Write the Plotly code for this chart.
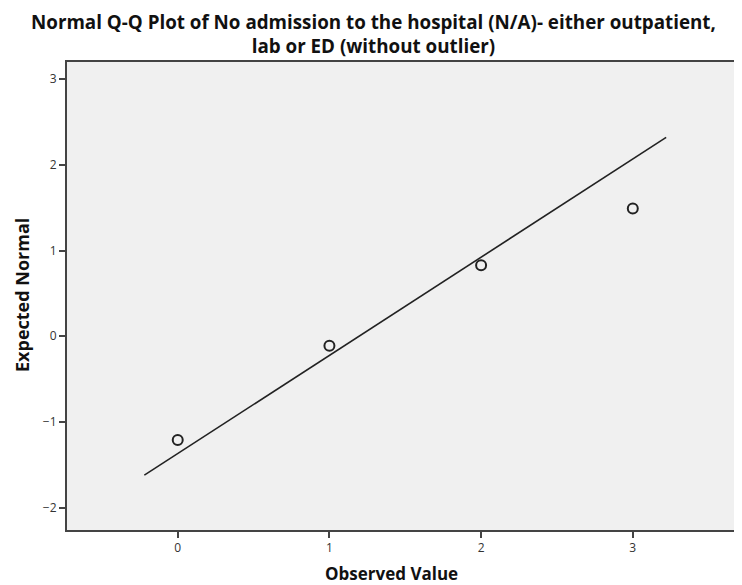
import plotly.graph_objects as go

# Data
observed = [0, 1, 2, 3]
expected = [-1.21, -0.11, 0.83, 1.49]
line_x = [-0.22, 3.22]
line_y = [-1.62, 2.32]
x_ticks = [0, 1, 2, 3]
y_ticks = [-2, -1, 0, 1, 2, 3]
title_lines = ["Normal Q-Q Plot of No admission to the hospital (N/A)- either outpatient,",
               "lab or ED (without outlier)"]

W, H = 734, 577
L, R, T, B = 59, 0, 54, 55
PW, PH = W - L - R, H - T - B

fig = go.Figure()
fig.add_trace(go.Scatter(x=line_x, y=line_y, mode="lines",
                         line=dict(color="#222222", width=1.6), showlegend=False))
fig.add_trace(go.Scatter(x=observed, y=expected, mode="markers",
                         marker=dict(symbol="circle-open", size=10, color="#222222",
                                     line=dict(width=2, color="#222222")),
                         showlegend=False))

cx = (365.5 - L) / PW
fig.add_annotation(text="<b>" + "<br>".join(title_lines) + "</b>", xref="paper", yref="paper",
                   x=cx, y=1 + (T - 26) / PH,
                   xanchor="center", yanchor="middle", showarrow=False,
                   font=dict(family="Open Sans", size=18.8, color="#111111"))

fig.add_annotation(text="<b>Observed Value</b>", xref="paper", yref="paper",
                   x=(383 - L) / PW, y=-(565 - (H - B)) / PH, xanchor="center", yanchor="middle",
                   showarrow=False, font=dict(family="Open Sans", size=17, color="#111111"))
fig.add_annotation(text="<b>Expected Normal</b>", xref="paper", yref="paper",
                   x=-(L - 14) / PW, y=1 - (287 - T) / PH, xanchor="center", yanchor="middle",
                   textangle=-90, showarrow=False, font=dict(family="Open Sans", size=18, color="#111111"))

fig.update_layout(
    width=W, height=H,
    margin=dict(l=L, r=R, t=T, b=B, autoexpand=False),
    paper_bgcolor="white", plot_bgcolor="#f0f0f0",
    font=dict(family="Open Sans", color="#333333"),
)
fig.update_xaxes(range=[-0.73, 3.72], tickvals=x_ticks, showgrid=False, zeroline=False,
                 showline=True, linecolor="#444444", linewidth=2, mirror=True, automargin=False,
                 ticks="outside", ticklen=6, tickcolor="#444444", tickwidth=1.5,
                 tickfont=dict(size=12, color="#333333"))
fig.update_yaxes(range=[-2.26, 3.2], tickvals=y_ticks, showgrid=False, zeroline=False,
                 showline=True, linecolor="#444444", linewidth=2, mirror=True, automargin=False,
                 ticks="outside", ticklen=6, tickcolor="#444444", tickwidth=1.5,
                 tickfont=dict(size=12, color="#333333"))

fig.write_html("out.html")
